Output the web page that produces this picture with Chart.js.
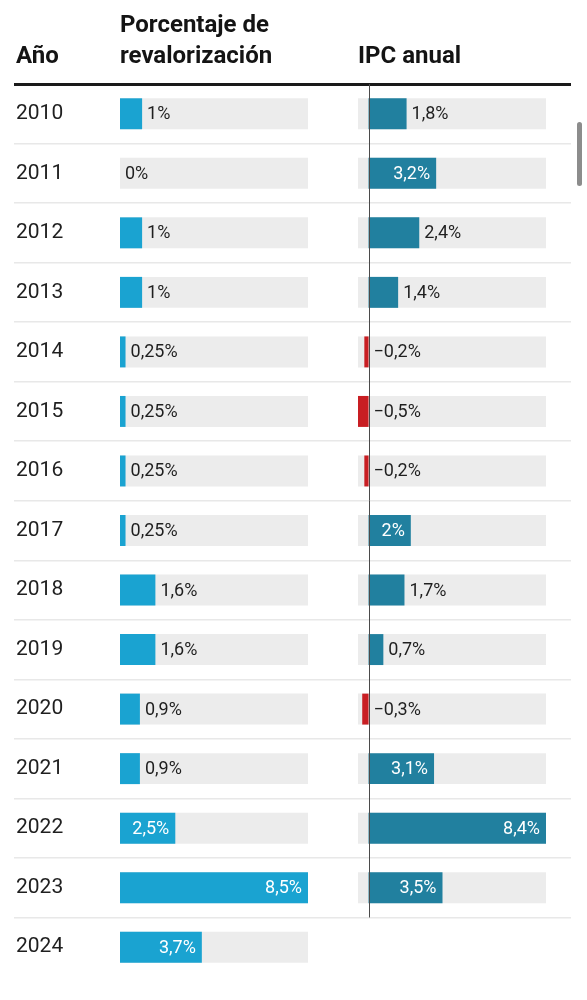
<!DOCTYPE html>
<html lang="es">
<head>
  <meta charset="UTF-8">
  <meta name="viewport" content="width=device-width, initial-scale=1.0">
  <title>Revalorización de pensiones e IPC</title>
  <script src="https://cdn.jsdelivr.net/npm/chart.js"></script>
  <style>
    body { margin: 0; background: #fff; font-family: Roboto, Arial, sans-serif; }
    #wrap { position: relative; width: 587px; height: 1000px; overflow: hidden; }
    #chart { position: absolute; left: 0; top: 0; }
    .head { position: absolute; font-weight: 700; font-size: 24px; line-height: 31px; color: #141414; white-space: nowrap; }
    #scroll { position: absolute; left: 577px; top: 122px; width: 5px; height: 64px; border-radius: 3px; background: #8c8c8c; }
  </style>
</head>
<body>
  <div id="wrap">
    <canvas id="chart" width="587" height="1000"></canvas>
    <div class="head" style="left:16px; top:40px;">Año</div>
    <div class="head" style="left:120px; top:9px;">Porcentaje de<br>revalorización</div>
    <div class="head" style="left:358px; top:40px;">IPC anual</div>
    <div id="scroll"></div>
  </div>

  <script>
    const years = ['2010', '2011', '2012', '2013', '2014', '2015', '2016', '2017',
                   '2018', '2019', '2020', '2021', '2022', '2023', '2024'];
    const revalorizacion = [1, 0, 1, 1, 0.25, 0.25, 0.25, 0.25, 1.6, 1.6, 0.9, 0.9, 2.5, 8.5, 3.7];
    const ipc = [1.8, 3.2, 2.4, 1.4, -0.2, -0.5, -0.2, 2, 1.7, 0.7, -0.3, 3.1, 8.4, 3.5, null];

    // ranges of the two bar columns
    const revalMax = 8.5;
    const ipcMin = -0.5;
    const ipcMax = 8.4;

    const revalBg = years.map(() => [0, revalMax]);
    const ipcBg = ipc.map(v => (v === null ? null : [ipcMin, ipcMax]));

    const BLUE = '#1aa3d1';
    const TEAL = '#21809f';
    const RED = '#c81e23';
    const TRACK = '#ececec';

    Chart.defaults.font.family = 'Roboto, Arial, sans-serif';

    function fmt(v) {
      return (v < 0 ? '−' : '') + String(Math.abs(v)).replace('.', ',') + '%';
    }

    // value labels + zero line of the IPC column
    const barLabels = {
      id: 'barLabels',
      afterDatasetsDraw(chart) {
        const ctx = chart.ctx;
        ctx.save();
        ctx.font = '18px Roboto, Arial, sans-serif';
        ctx.textBaseline = 'middle';
        [1, 3].forEach(di => {
          const values = chart.data.datasets[di].data;
          chart.getDatasetMeta(di).data.forEach((bar, i) => {
            const v = values[i];
            if (v === null || v === undefined) return;
            const txt = fmt(v);
            const tw = ctx.measureText(txt).width;
            const len = bar.x - bar.base;
            if (len >= tw + 16) {
              ctx.fillStyle = '#fff';
              ctx.textAlign = 'right';
              ctx.fillText(txt, bar.x - 6, bar.y + 1);
            } else {
              ctx.fillStyle = '#1f1f1f';
              ctx.textAlign = 'left';
              ctx.fillText(txt, Math.max(bar.x, bar.base) + 5, bar.y + 1);
            }
          });
        });

        const y = chart.scales.y;
        const xR = chart.scales.xR;
        let last = 0;
        ipc.forEach((v, i) => { if (v !== null) last = i; });
        const yEnd = y.getPixelForValue(last) + (y.getPixelForValue(1) - y.getPixelForValue(0)) / 2;
        const x0 = Math.round(xR.getPixelForValue(0)) + 0.5;
        ctx.strokeStyle = '#4a4a4a';
        ctx.lineWidth = 1;
        ctx.beginPath();
        ctx.moveTo(x0, chart.chartArea.top);
        ctx.lineTo(x0, yEnd);
        ctx.stroke();
        ctx.restore();
      }
    };

    const common = { grouped: false, categoryPercentage: 1, barPercentage: 0.52, borderWidth: 0, yAxisID: 'y' };

    new Chart(document.getElementById('chart'), {
      type: 'bar',
      data: {
        labels: years,
        datasets: [
          { ...common, label: 'fondo', data: revalBg, xAxisID: 'xL', backgroundColor: TRACK, order: 3 },
          { ...common, label: 'Porcentaje de revalorización', data: revalorizacion, xAxisID: 'xL', backgroundColor: BLUE, order: 1 },
          { ...common, label: 'fondo IPC', data: ipcBg, xAxisID: 'xR', backgroundColor: TRACK, order: 3 },
          { ...common, label: 'IPC anual', data: ipc, xAxisID: 'xR',
            backgroundColor: c => (c.raw < 0 ? RED : TEAL), order: 1 }
        ]
      },
      options: {
        indexAxis: 'y',
        responsive: false,
        animation: false,
        layout: { padding: { left: 14, right: 16, top: 84, bottom: 23 } },
        plugins: { legend: { display: false }, tooltip: { enabled: false } },
        scales: {
          y: {
            type: 'category',
            offset: true,
            border: { display: false },
            grid: {
              offset: true,
              drawTicks: false,
              color: c => (c.index === 0 ? '#1a1a1a' : (c.index === undefined ? 'rgba(0,0,0,0)' : '#e8e8e8')),
              lineWidth: c => (c.index === 0 ? 3 : 1.5)
            },
            ticks: { mirror: true, padding: 2, color: '#1f1f1f', font: { size: 21 } },
            afterFit: s => { s.width = 0; }
          },
          // five stacked horizontal slots: year column, left bars, gap, right bars, margin
          gapL: { type: 'linear', position: 'bottom', display: false, stack: 'row', stackWeight: 106 },
          xL: { type: 'linear', position: 'bottom', display: false, stack: 'row', stackWeight: 188, min: 0, max: revalMax },
          gapM: { type: 'linear', position: 'bottom', display: false, stack: 'row', stackWeight: 50 },
          xR: { type: 'linear', position: 'bottom', display: false, stack: 'row', stackWeight: 188, min: ipcMin, max: ipcMax },
          gapR: { type: 'linear', position: 'bottom', display: false, stack: 'row', stackWeight: 25 }
        }
      },
      plugins: [barLabels]
    });
  </script>
</body>
</html>
